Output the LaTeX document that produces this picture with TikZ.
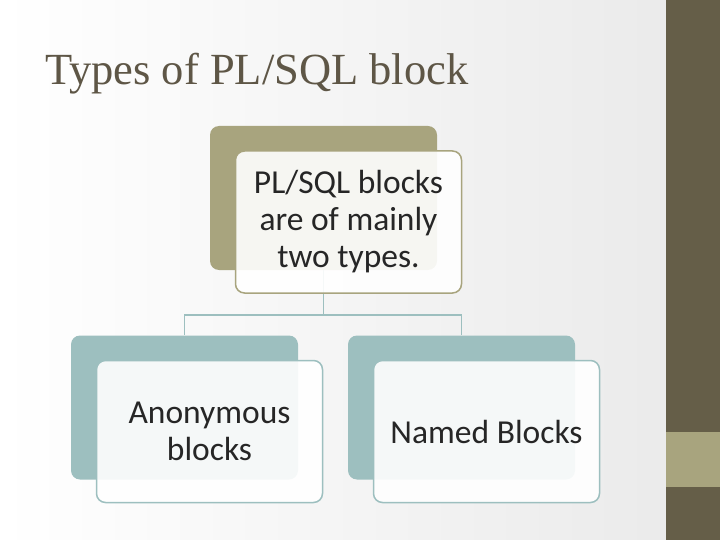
\documentclass[tikz,border=0pt]{standalone}
\usepackage{fontspec}
\setmainfont{Carlito}
\newfontfamily\titlefont{Liberation Serif}
\usetikzlibrary{positioning}
\definecolor{olivedark}{HTML}{655E48}
\definecolor{olivelight}{HTML}{A8A47E}
\definecolor{tealgray}{HTML}{9DBFBF}
\definecolor{titlegray}{HTML}{5E5646}
\definecolor{textdark}{HTML}{262626}

\tikzset{
  backbox/.style={rounded corners=9pt, minimum width=227pt, minimum height=144pt, inner sep=0pt},
  frontbox/.style={rounded corners=9pt, line width=1.5pt, fill=white, fill opacity=0.9,
    text opacity=1, minimum width=226pt, minimum height=142pt, inner sep=0pt, align=center,
    font=\fontsize{33.5}{37}\selectfont, text=textdark},
  link/.style={draw=tealgray, line width=1.5pt}
}

\begin{document}
\begin{tikzpicture}[x=1pt,y=-1pt]
\useasboundingbox (0,0) rectangle (720,540);
\shade[left color=white, middle color=white!98!black, right color=black!8] (0,0) rectangle (666,540);
\fill[olivedark] (666,0) rectangle (720,540);
\fill[olivelight] (666,432) rectangle (720,487);

\node[anchor=base west, inner sep=0pt, text=titlegray,
  font=\titlefont\fontsize{44.5}{50}\selectfont] (title) at (45,85) {Types of PL/SQL block};

% back boxes
\node[backbox, fill=olivelight] (topback) at (323.5,198) {};
\node[backbox, fill=tealgray] (leftback) at (184.5,407.5) {};
\node[backbox, fill=tealgray] (rightback) at (461.5,407.5) {};

% connectors
\coordinate (fork) at (323.5,315);
\draw[link] (topback.south) -- (fork) -| (leftback.north);
\draw[link] (fork) -| (rightback.north);

% front boxes
\node[frontbox, draw=olivelight] (top) at ([shift={(25,24)}]topback.center)
  {PL/SQL blocks\\are of mainly\\two types.};
\node[frontbox, draw=tealgray] (anon) at ([shift={(25,24)}]leftback.center)
  {Anonymous\\blocks};
\node[frontbox, draw=tealgray] (named) at ([shift={(25,24)}]rightback.center)
  {Named Blocks};
\end{tikzpicture}
\end{document}
